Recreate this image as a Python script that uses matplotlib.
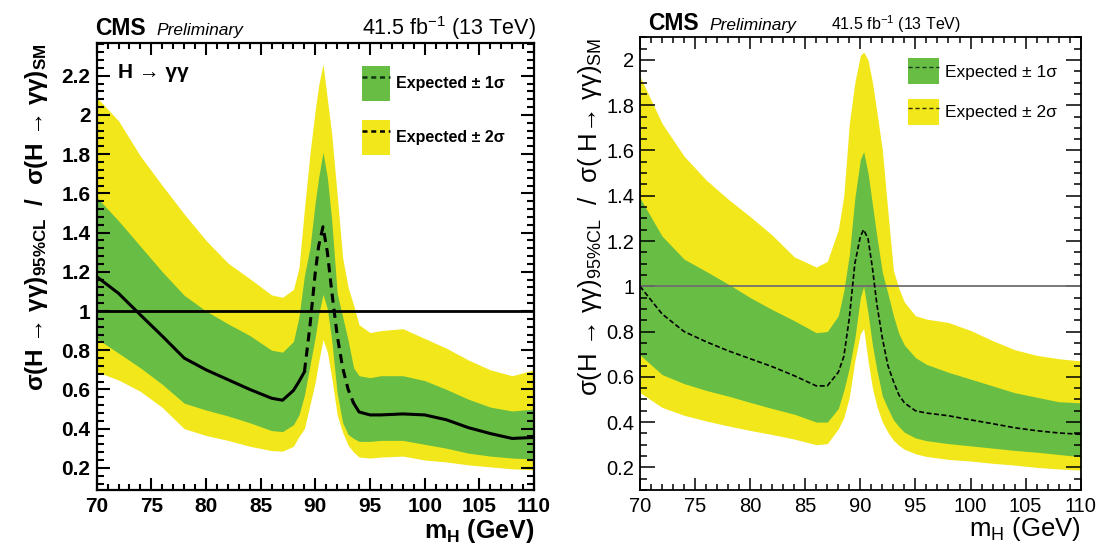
import matplotlib
matplotlib.use('Agg')
import matplotlib.pyplot as plt
from matplotlib.patches import Patch
from matplotlib.lines import Line2D
from matplotlib.ticker import MultipleLocator
import numpy as np

plt.rcParams['font.family'] = ['Liberation Sans', 'DejaVu Sans']
plt.rcParams['mathtext.fontset'] = 'custom'
plt.rcParams['mathtext.rm'] = 'Liberation Sans'
plt.rcParams['mathtext.it'] = 'Liberation Sans:italic'
plt.rcParams['mathtext.bf'] = 'Liberation Sans:bold'

# ---------------- data: left panel ----------------
mass_left = [70, 72, 74, 76, 78, 80, 82, 84, 86, 87, 88, 88.5, 89, 89.5, 90, 90.3, 90.7,
             91.1, 91.5, 92, 92.5, 93, 93.5, 94, 95, 96, 98, 100, 102, 104, 106, 108, 110]
exp_left = [1.175, 1.09, 0.98, 0.872, 0.76, 0.70, 0.65, 0.60, 0.555, 0.545, 0.595, 0.64, 0.69,
            0.92, 1.20, 1.33, 1.43, 1.30, 1.10, 0.875, 0.71, 0.60, 0.53, 0.485, 0.47, 0.47,
            0.475, 0.47, 0.445, 0.405, 0.375, 0.35, 0.355]
s1_lo_left = [0.86, 0.785, 0.71, 0.626, 0.53, 0.495, 0.465, 0.43, 0.39, 0.385, 0.42, 0.47, 0.57,
              0.72, 0.87, 0.98, 1.085, 1.01, 0.85, 0.58, 0.43, 0.37, 0.35, 0.335, 0.335, 0.34,
              0.34, 0.32, 0.30, 0.275, 0.26, 0.25, 0.245]
s1_hi_left = [1.58, 1.46, 1.33, 1.20, 1.08, 1.00, 0.935, 0.875, 0.80, 0.79, 0.845, 0.97, 1.18,
              1.32, 1.56, 1.68, 1.81, 1.68, 1.46, 1.09, 0.97, 0.85, 0.71, 0.67, 0.66, 0.67,
              0.67, 0.645, 0.60, 0.55, 0.51, 0.49, 0.50]
s2_lo_left = [0.69, 0.648, 0.59, 0.508, 0.40, 0.365, 0.34, 0.31, 0.288, 0.285, 0.31, 0.36, 0.40,
              0.52, 0.64, 0.74, 0.855, 0.79, 0.66, 0.47, 0.38, 0.315, 0.28, 0.255, 0.25, 0.255,
              0.26, 0.24, 0.23, 0.215, 0.205, 0.195, 0.19]
s2_hi_left = [2.09, 1.97, 1.79, 1.64, 1.495, 1.36, 1.245, 1.165, 1.082, 1.07, 1.11, 1.22, 1.52,
              1.80, 2.03, 2.15, 2.26, 2.08, 1.90, 1.59, 1.27, 1.12, 1.03, 0.93, 0.89, 0.90,
              0.91, 0.86, 0.81, 0.75, 0.70, 0.67, 0.70]

# ---------------- data: right panel ----------------
mass_right = [70, 72, 74, 76, 78, 80, 82, 84, 86, 87, 88, 88.5, 89, 89.5, 90, 90.3, 90.7,
              91.1, 91.5, 92, 92.5, 93, 93.5, 94, 95, 96, 98, 100, 102, 104, 106, 108, 110]
exp_right = [1.0, 0.878, 0.80, 0.755, 0.715, 0.68, 0.645, 0.605, 0.56, 0.56, 0.62, 0.69, 0.86,
             1.10, 1.22, 1.25, 1.21, 1.08, 0.92, 0.77, 0.65, 0.58, 0.52, 0.485, 0.45, 0.44,
             0.428, 0.41, 0.393, 0.375, 0.362, 0.352, 0.346]
s1_lo_right = [0.697, 0.61, 0.57, 0.54, 0.515, 0.487, 0.46, 0.435, 0.40, 0.40, 0.46, 0.54, 0.64,
               0.77, 0.95, 1.0, 0.88, 0.74, 0.63, 0.515, 0.46, 0.41, 0.38, 0.355, 0.33, 0.318,
               0.305, 0.295, 0.285, 0.275, 0.267, 0.257, 0.247]
s1_hi_right = [1.39, 1.222, 1.12, 1.066, 1.01, 0.95, 0.897, 0.848, 0.795, 0.80, 0.87, 0.98, 1.14,
               1.39, 1.56, 1.595, 1.50, 1.36, 1.22, 1.06, 0.968, 0.87, 0.79, 0.74, 0.685, 0.655,
               0.62, 0.59, 0.56, 0.53, 0.51, 0.49, 0.485]
s2_lo_right = [0.53, 0.465, 0.43, 0.405, 0.383, 0.363, 0.345, 0.325, 0.30, 0.305, 0.37, 0.42, 0.51,
               0.67, 0.79, 0.814, 0.67, 0.55, 0.47, 0.40, 0.355, 0.32, 0.297, 0.28, 0.26, 0.248,
               0.235, 0.228, 0.218, 0.21, 0.20, 0.193, 0.188]
s2_hi_right = [1.927, 1.72, 1.575, 1.47, 1.385, 1.308, 1.226, 1.13, 1.085, 1.11, 1.25, 1.40, 1.72,
               1.90, 2.02, 2.035, 2.0, 1.90, 1.77, 1.60, 1.33, 1.07, 0.99, 0.93, 0.87, 0.855,
               0.84, 0.805, 0.76, 0.72, 0.695, 0.68, 0.67]

legend_labels = ['Expected \u00b1 1\u03c3', 'Expected \u00b1 2\u03c3']
GREEN = '#68bd45'
YELLOW = '#f2e71b'

W, H = 1101, 550
fig = plt.figure(figsize=(W / 100, H / 100), dpi=100)
axL = fig.add_axes([96.7 / W, 60 / H, 437.3 / W, 447 / H])
axR = fig.add_axes([640 / W, 60 / H, 440.7 / W, 452.7 / H])

fmt = matplotlib.ticker.FuncFormatter(lambda v, p: ('%g' % round(v, 2)))

# ---------------- left panel ----------------
mL = np.array(mass_left)
eL = np.array(exp_left)
axL.fill_between(mL, s2_lo_left, s2_hi_left, color=YELLOW, lw=0)
axL.fill_between(mL, s1_lo_left, s1_hi_left, color=GREEN, lw=0)
axL.axhline(1.0, color='black', lw=2.0)
solid1 = mL <= 89.0
dashm = (mL >= 89.0) & (mL <= 93.5)
solid2 = mL >= 93.5
axL.plot(mL[solid1], eL[solid1], color='black', lw=2.2)
axL.plot(mL[dashm], eL[dashm], color='black', lw=2.2, dashes=(3, 2))
axL.plot(mL[solid2], eL[solid2], color='black', lw=2.2)
axL.set_xlim(70, 110)
axL.set_ylim(0.087, 2.367)
axL.xaxis.set_major_locator(MultipleLocator(5))
axL.xaxis.set_minor_locator(MultipleLocator(1))
axL.yaxis.set_major_locator(MultipleLocator(0.2))
axL.yaxis.set_minor_locator(MultipleLocator(0.04))
axL.yaxis.set_major_formatter(fmt)
axL.tick_params(which='both', direction='in', top=True, right=True, width=1.5)
axL.tick_params(axis='x', which='major', length=8.6, labelsize=15, pad=5)
axL.tick_params(axis='x', which='minor', length=4.3)
axL.tick_params(axis='y', which='major', length=9.4, labelsize=15, pad=4.5)
axL.tick_params(axis='y', which='minor', length=5)
for lab in axL.get_xticklabels() + axL.get_yticklabels():
    lab.set_fontweight('bold')
for sp in axL.spines.values():
    sp.set_linewidth(1.6)
axL.set_xlabel(r'm$_\mathbf{H}$ (GeV)', fontsize=18, fontweight='bold', loc='right')
axL.xaxis.set_label_coords(1.0, -0.06)
axL.set_ylabel('\u03c3(H \u2192 \u03b3\u03b3)$_\\mathbf{95\\%CL}$  /  \u03c3(H \u2192 \u03b3\u03b3)$_\\mathbf{SM}$',
               fontsize=17.5, fontweight='bold', loc='top')
axL.yaxis.set_label_coords(-0.107, 1.0)
axL.text(0.049, 0.935, 'H \u2192 \u03b3\u03b3', transform=axL.transAxes,
         fontsize=15, fontweight='bold', va='center', ha='left')
axL.text(-0.003, 1.018, 'CMS', transform=axL.transAxes, fontsize=16.5, fontweight='bold',
         va='baseline', ha='left')
axL.text(0.137, 1.018, 'Preliminary', transform=axL.transAxes, fontsize=12.5, style='italic',
         va='baseline', ha='left')
axL.text(1.005, 1.018, r'41.5 fb$^{-1}$ (13 TeV)', transform=axL.transAxes, fontsize=15.5,
         va='baseline', ha='right')
hL = [(Patch(facecolor=GREEN, edgecolor='none'), Line2D([], [], color='#123312', lw=1.8, dashes=(2, 1.5))),
      (Patch(facecolor=YELLOW, edgecolor='none'), Line2D([], [], color='black', lw=1.8, dashes=(2, 1.5)))]
axL.legend(hL, legend_labels, loc='upper left', bbox_to_anchor=(0.606, 0.949),
           frameon=False, borderpad=0, borderaxespad=0, handlelength=1.77,
           handleheight=2.98, labelspacing=1.2, handletextpad=0.4,
           prop={'size': 11.5, 'weight': 'bold'})

# ---------------- right panel ----------------
mR = np.array(mass_right)
axR.fill_between(mR, s2_lo_right, s2_hi_right, color=YELLOW, lw=0)
axR.fill_between(mR, s1_lo_right, s1_hi_right, color=GREEN, lw=0)
axR.axhline(1.0, color='#707070', lw=1.3)
axR.plot(mR, exp_right, color='black', lw=1.2, dashes=(3, 1.5))
axR.set_xlim(70, 110)
axR.set_ylim(0.1, 2.1)
axR.xaxis.set_major_locator(MultipleLocator(5))
axR.xaxis.set_minor_locator(MultipleLocator(1))
axR.yaxis.set_major_locator(MultipleLocator(0.2))
axR.yaxis.set_minor_locator(MultipleLocator(0.05))
axR.yaxis.set_major_formatter(fmt)
axR.tick_params(which='both', direction='in', top=True, right=True, width=1.1)
axR.tick_params(axis='x', which='major', length=8.6, labelsize=14.5, pad=5)
axR.tick_params(axis='x', which='minor', length=4.3)
axR.tick_params(axis='y', which='major', length=10.8, labelsize=14.5, pad=4)
axR.tick_params(axis='y', which='minor', length=5)
for sp in axR.spines.values():
    sp.set_linewidth(1.3)
axR.set_xlabel(r'm$_\mathrm{H}$ (GeV)', fontsize=18.5, loc='right')
axR.xaxis.set_label_coords(1.0, -0.055)
axR.set_ylabel('\u03c3(H \u2192 \u03b3\u03b3)$_\\mathrm{95\\%CL}$  /  \u03c3( H\u2192 \u03b3\u03b3)$_\\mathrm{SM}$',
               fontsize=18.5, loc='top')
axR.yaxis.set_label_coords(-0.082, 1.0)
axR.text(0.018, 1.0166, 'CMS', transform=axR.transAxes, fontsize=16.5, fontweight='bold',
         va='baseline', ha='left')
axR.text(0.158, 1.0166, 'Preliminary', transform=axR.transAxes, fontsize=12.5, style='italic',
         va='baseline', ha='left')
axR.text(0.4325, 1.0166, r'41.5 fb$^{-1}$ (13 TeV)', transform=axR.transAxes, fontsize=11.5,
         va='baseline', ha='left')
hR = [(Patch(facecolor=GREEN, edgecolor='none'), Line2D([], [], color='#1a3a1a', lw=1.0, dashes=(3, 2))),
      (Patch(facecolor=YELLOW, edgecolor='none'), Line2D([], [], color='#333300', lw=1.0, dashes=(3, 2)))]
axR.legend(hR, legend_labels, loc='upper left', bbox_to_anchor=(0.608, 0.954),
           frameon=False, borderpad=0, borderaxespad=0, handlelength=1.78,
           handleheight=1.95, labelspacing=0.83, handletextpad=0.35,
           prop={'size': 12.5})

fig.savefig('out.png', dpi=100)
